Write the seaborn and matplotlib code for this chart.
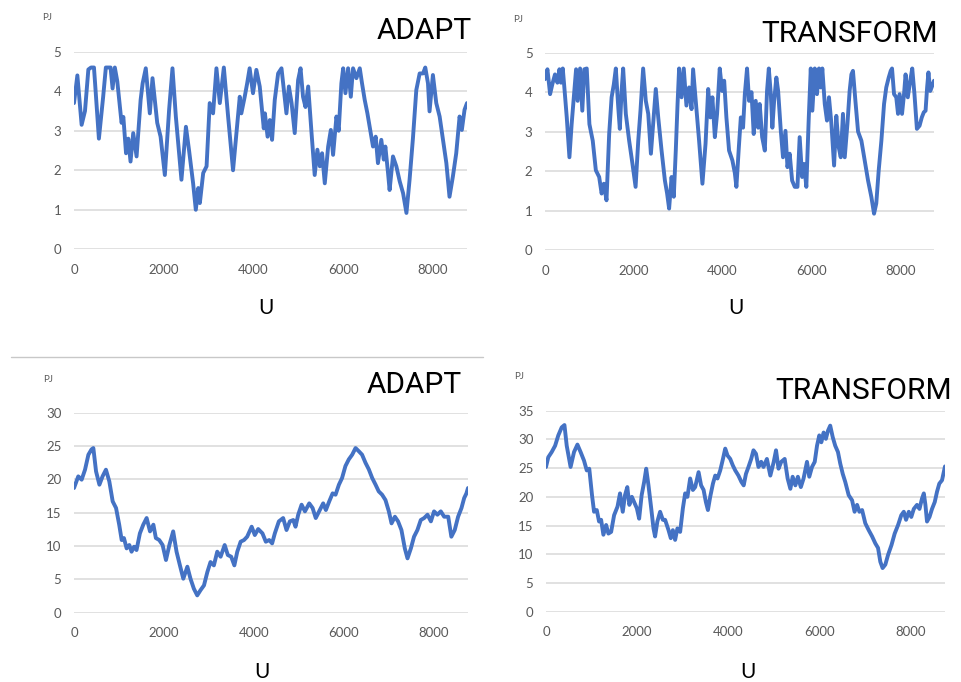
import matplotlib
matplotlib.use("Agg")
import matplotlib.pyplot as plt
from matplotlib.lines import Line2D
import seaborn as sns

# ---- data (hour of year -> PJ) ----
adapt_top_hours = [0, 75, 170, 245, 320, 380, 445, 470, 555, 650, 710, 815, 860, 910, 965,
                   1060, 1100, 1160, 1210, 1260, 1320, 1395, 1485, 1530, 1600, 1690, 1750,
                   1855, 1930, 2025, 2120, 2195, 2270, 2395, 2495, 2565, 2655, 2715, 2770,
                   2805, 2880, 2955, 3025, 3100, 3175, 3250, 3340, 3435, 3545, 3620, 3695,
                   3730, 3805, 3860, 3915, 3990, 4065, 4140, 4230, 4255, 4315, 4365, 4415,
                   4475, 4550, 4625, 4685, 4735, 4790, 4850, 4920, 4995, 5050, 5105, 5160,
                   5220, 5295, 5365, 5425, 5480, 5530, 5590, 5665, 5725, 5775, 5850, 5900,
                   5960, 6000, 6050, 6110, 6170, 6220, 6295, 6370, 6420, 6480, 6540, 6590,
                   6665, 6725, 6775, 6850, 6905, 6940, 7000, 7035, 7110, 7185, 7260, 7335,
                   7410, 7480, 7555, 7630, 7705, 7780, 7830, 7890, 7925, 8000, 8075, 8150,
                   8225, 8300, 8370, 8445, 8520, 8595, 8645, 8705, 8760]
adapt_top_pj = [3.7, 4.4, 3.15, 3.5, 4.55, 4.6, 4.6, 4.2, 2.8, 3.86, 4.6, 4.6, 4.07, 4.6, 4.25,
                3.2, 3.35, 2.43, 2.8, 2.22, 2.94, 2.35, 3.78, 4.2, 4.58, 3.44, 4.33,
                3.2, 2.85, 1.88, 3.53, 4.58, 3.36, 1.76, 3.1, 2.5, 1.67, 1.0, 1.55,
                1.17, 1.93, 2.1, 3.7, 3.44, 4.58, 3.7, 4.6, 3.36, 2.0, 2.94, 3.86,
                3.44, 3.86, 4.2, 4.58, 3.95, 4.54, 4.12, 3.06, 3.44, 2.85, 3.27, 2.77,
                3.78, 4.45, 4.58, 3.95, 3.44, 4.12, 3.7, 2.94, 4.28, 4.58, 3.86, 3.6,
                4.12, 2.94, 1.88, 2.52, 2.1, 2.43, 1.67, 2.6, 3.02, 2.39, 3.36, 3.0,
                4.2, 4.58, 3.95, 4.58, 3.86, 4.58, 4.33, 4.58, 4.2, 3.78, 3.44, 3.1,
                2.6, 2.85, 2.18, 2.77, 2.27, 2.6, 1.93, 1.5, 2.35, 2.1, 1.72, 1.42,
                0.92, 1.76, 2.81, 4.03, 4.45, 4.45, 4.6, 4.2, 3.49, 4.41, 3.7, 3.36,
                2.77, 2.18, 1.33, 1.84, 2.43, 3.36, 3.02, 3.53, 3.7]

transform_top_hours = [0, 55, 115, 165, 225, 280, 325, 360, 400, 430, 490, 550, 600, 655, 700,
                       735, 790, 840, 885, 940, 1000, 1075, 1145, 1220, 1275, 1325, 1385,
                       1445, 1500, 1550, 1595, 1650, 1685, 1725, 1760, 1820, 1895, 1970, 2040,
                       2100, 2150, 2210, 2270, 2325, 2385, 2435, 2495, 2550, 2625, 2700, 2750,
                       2795, 2850, 2900, 2945, 2985, 3020, 3075, 3125, 3185, 3245, 3300, 3335,
                       3395, 3470, 3545, 3615, 3675, 3725, 3770, 3825, 3875, 3935, 3990, 4035,
                       4085, 4145, 4220, 4275, 4310, 4365, 4410, 4460, 4500, 4550, 4595, 4650,
                       4700, 4745, 4800, 4835, 4890, 4950, 5000, 5040, 5085, 5120, 5160, 5210,
                       5250, 5310, 5360, 5415, 5460, 5510, 5565, 5625, 5685, 5735, 5790, 5835,
                       5885, 5940, 5985, 6020, 6075, 6125, 6170, 6210, 6245, 6300, 6350, 6395,
                       6450, 6510, 6560, 6615, 6660, 6710, 6750, 6810, 6860, 6900, 6935, 6990,
                       7050, 7125, 7200, 7275, 7350, 7410, 7460, 7515, 7575, 7635, 7685, 7740,
                       7785, 7815, 7860, 7910, 7950, 7985, 8040, 8085, 8120, 8170, 8225, 8270,
                       8320, 8375, 8435, 8485, 8530, 8570, 8605, 8635, 8675, 8720, 8760]
transform_top_pj = [4.33, 4.58, 3.95, 4.2, 4.45, 4.24, 4.58, 4.24, 4.6, 4.2, 3.36, 2.35, 3.19, 3.95, 4.58,
                    3.78, 4.6, 3.53, 4.58, 4.6, 3.19, 2.77, 2.02, 1.85, 1.43, 1.68, 1.26,
                    2.94, 3.87, 4.2, 4.6, 3.61, 3.07, 4.03, 4.6, 3.45, 2.77, 2.18, 1.6,
                    2.77, 3.53, 4.6, 3.78, 3.45, 2.44, 3.19, 4.08, 3.36, 2.52, 1.76, 1.43,
                    1.05, 1.85, 1.35, 2.52, 3.7, 4.6, 3.87, 4.6, 3.66, 4.12, 3.57, 4.58,
                    3.78, 2.77, 1.68, 2.69, 4.08, 3.36, 3.87, 2.86, 3.45, 4.6, 4.03, 4.29,
                    3.36, 2.52, 2.27, 1.95, 1.6, 2.6, 3.36, 3.1, 3.95, 4.6, 3.78, 4.0,
                    2.94, 3.78, 3.1, 3.7, 2.86, 2.52, 4.03, 4.6, 3.95, 3.1, 3.78, 4.37,
                    4.03, 3.02, 2.35, 3.02, 2.1, 2.44, 1.76, 1.6, 1.6, 2.86, 1.85, 2.18,
                    1.6, 3.36, 4.6, 3.53, 4.6, 3.95, 4.6, 4.12, 4.6, 3.7, 3.28, 3.87,
                    3.19, 2.14, 3.4, 2.6, 2.35, 3.45, 2.35, 3.19, 4.03, 4.45, 4.54, 3.78,
                    3.0, 2.77, 2.27, 1.76, 1.34, 0.92, 1.18, 2.02, 2.77, 3.7, 4.12, 4.37,
                    4.54, 4.6, 3.95, 3.87, 3.45, 3.95, 3.45, 3.95, 4.45, 3.87, 4.29, 4.6,
                    3.95, 3.07, 3.15, 3.36, 3.49, 3.53, 4.12, 4.5, 4.03, 4.16, 4.29]

adapt_bottom_hours = [0, 95, 170, 245, 320, 390, 430, 490, 565, 635, 710, 785, 860, 935, 1005,
                      1060, 1110, 1170, 1230, 1280, 1335, 1390, 1465, 1540, 1615, 1690, 1765,
                      1820, 1895, 1970, 2045, 2120, 2205, 2280, 2355, 2430, 2520, 2590, 2665,
                      2740, 2815, 2890, 2965, 3035, 3110, 3185, 3260, 3350, 3420, 3495, 3565,
                      3630, 3705, 3780, 3850, 3950, 4020, 4095, 4190, 4265, 4340, 4405, 4465,
                      4555, 4650, 4725, 4800, 4875, 4925, 4985, 5060, 5135, 5230, 5305, 5375,
                      5450, 5540, 5600, 5675, 5750, 5815, 5890, 5960, 6035, 6110, 6185, 6260,
                      6335, 6405, 6480, 6555, 6630, 6705, 6775, 6850, 6925, 7000, 7060, 7135,
                      7205, 7280, 7355, 7415, 7490, 7560, 7635, 7710, 7785, 7860, 7935, 8005,
                      8080, 8155, 8230, 8320, 8390, 8465, 8540, 8615, 8675, 8725, 8760]
adapt_bottom_pj = [18.7, 20.45, 19.95, 21.45, 23.7, 24.5, 24.7, 21.2, 19.2, 20.45, 21.45, 19.7, 16.7, 15.7, 13.2,
                   10.9, 11.2, 9.65, 10.15, 9.15, 9.9, 9.4, 11.9, 13.2, 14.2, 12.2, 13.2,
                   11.2, 10.9, 10.15, 7.9, 10.15, 12.2, 9.15, 7.1, 5.1, 6.9, 5.1, 3.6,
                   2.6, 3.4, 4.1, 6.1, 7.6, 7.1, 9.15, 8.4, 10.15, 8.65, 8.4, 7.1,
                   9.15, 10.65, 10.9, 11.4, 12.9, 11.65, 12.55, 11.9, 10.65, 10.9, 10.4, 11.9,
                   13.7, 14.2, 12.4, 13.7, 13.9, 12.9, 14.7, 16.2, 15.2, 16.4, 15.7, 14.2,
                   15.2, 16.4, 15.4, 16.7, 17.9, 17.7, 19.2, 20.2, 22.0, 23.0, 23.7, 24.7,
                   24.2, 23.7, 22.5, 21.5, 20.2, 19.2, 18.2, 17.7, 16.9, 15.2, 13.4, 14.4,
                   13.7, 12.4, 9.65, 8.15, 9.65, 11.4, 12.4, 13.9, 14.2, 14.7, 13.7, 15.2,
                   14.7, 15.2, 14.4, 14.4, 11.4, 12.4, 14.4, 15.7, 17.2, 17.9, 18.7]

transform_bottom_hours = [0, 50, 125, 200, 270, 345, 405, 455, 540, 615, 690, 760, 835, 895, 950,
                          1010, 1055, 1115, 1165, 1210, 1260, 1320, 1370, 1430, 1495, 1570, 1625,
                          1685, 1735, 1785, 1830, 1885, 1935, 1995, 2045, 2100, 2155, 2200, 2250,
                          2310, 2360, 2395, 2445, 2505, 2565, 2615, 2690, 2740, 2785, 2835, 2885,
                          2945, 3005, 3055, 3105, 3165, 3225, 3275, 3350, 3405, 3460, 3510, 3555,
                          3605, 3665, 3715, 3765, 3825, 3885, 3935, 3985, 4045, 4100, 4155, 4225,
                          4290, 4340, 4390, 4445, 4505, 4555, 4610, 4665, 4725, 4775, 4850, 4925,
                          5000, 5050, 5105, 5165, 5240, 5305, 5365, 5415, 5475, 5530, 5595, 5655,
                          5730, 5780, 5840, 5900, 5950, 6000, 6045, 6095, 6145, 6190, 6240, 6295,
                          6350, 6410, 6460, 6515, 6570, 6645, 6720, 6775, 6830, 6880, 6940, 7010,
                          7085, 7160, 7230, 7290, 7340, 7390, 7450, 7510, 7585, 7655, 7730, 7800,
                          7855, 7905, 7965, 8020, 8075, 8145, 8200, 8255, 8295, 8330, 8365, 8420,
                          8475, 8535, 8585, 8635, 8695, 8760]
transform_bottom_pj = [25.2, 26.9, 27.8, 28.9, 30.7, 32.1, 32.5, 28.9, 25.2, 27.8, 29.1, 27.8, 26.3, 24.6, 24.9,
                       20.3, 17.4, 17.7, 15.7, 16.0, 13.4, 15.1, 13.6, 13.9, 16.8, 18.3, 20.6,
                       17.4, 20.3, 21.7, 18.6, 20.0, 19.1, 18.0, 16.2, 20.3, 22.6, 24.9, 22.0,
                       18.0, 14.5, 13.1, 15.7, 17.4, 16.0, 16.0, 14.2, 12.8, 14.2, 12.5, 14.5,
                       13.9, 18.0, 20.6, 20.0, 23.2, 21.2, 21.7, 24.3, 22.0, 21.2, 19.1, 17.7,
                       20.0, 22.3, 23.7, 23.2, 24.6, 26.6, 28.4, 27.2, 26.6, 25.5, 24.6, 23.7,
                       22.6, 22.0, 24.0, 25.2, 26.6, 28.1, 27.5, 25.2, 26.1, 25.2, 26.6, 23.7,
                       26.1, 28.1, 24.9, 26.1, 26.6, 23.2, 21.4, 23.5, 22.0, 23.5, 21.7, 23.2,
                       26.1, 23.5, 25.2, 26.1, 28.9, 30.7, 29.5, 31.2, 30.1, 31.5, 32.4, 30.4,
                       28.9, 27.8, 25.8, 24.0, 22.6, 20.3, 19.4, 17.4, 18.6, 17.4, 17.7, 15.4,
                       14.2, 13.1, 11.9, 11.1, 8.7, 7.6, 8.2, 9.9, 11.6, 13.6, 15.1, 16.8,
                       17.4, 16.0, 17.4, 16.5, 17.9, 18.6, 17.9, 19.7, 20.6, 18.6, 15.7, 16.5,
                       17.9, 19.1, 20.9, 22.3, 22.9, 25.3]

panel_titles = ["ADAPT", "TRANSFORM", "ADAPT", "TRANSFORM"]
y_ticks = [[0, 1, 2, 3, 4, 5], [0, 1, 2, 3, 4, 5],
           [0, 5, 10, 15, 20, 25, 30], [0, 5, 10, 15, 20, 25, 30, 35]]
x_ticks = [0, 2000, 4000, 6000, 8000]

# ---- figure ----
W, H = 961, 682
sns.set_theme(style="white")
plt.rcParams['font.family'] = ['Lato', 'DejaVu Sans']

fig = plt.figure(figsize=(W / 100, H / 100), dpi=100)

def px_rect(x0, x1, ytop, ybot):
    return [x0 / W, 1 - ybot / H, (x1 - x0) / W, (ybot - ytop) / H]

axes_px = [(74, 467, 51.7, 249.3), (545, 934, 52.7, 250),
           (74, 468, 412.7, 612.7), (546, 945, 410.7, 611.7)]
series = [(adapt_top_hours, adapt_top_pj), (transform_top_hours, transform_top_pj),
          (adapt_bottom_hours, adapt_bottom_pj), (transform_bottom_hours, transform_bottom_pj)]
title_pos = [(472, 39), (938, 42), (462, 393), (952, 399)]
pj_pos = [(47, 18), (518, 20), (48, 380), (519, 377)]
u_pos = [(266, 308), (736, 308), (262, 672), (748, 672)]

line_col = '#4472C4'
tick_col = '#595959'
grid_col = '#d9d9d9'

for i in range(4):
    ax = fig.add_axes(px_rect(*axes_px[i]))
    hours, pj = series[i]
    sns.lineplot(x=hours, y=pj, ax=ax, color=line_col, linewidth=2.8)
    ax.set_xlim(0, 8760)
    ax.set_ylim(0, y_ticks[i][-1])
    ax.set_yticks(y_ticks[i])
    ax.set_xticks(x_ticks)
    ax.grid(axis='y', color=grid_col, linewidth=1.1)
    ax.grid(axis='x', visible=False)
    ax.set_axisbelow(True)
    for s in ax.spines.values():
        s.set_visible(False)
    ax.tick_params(axis='both', length=0, labelsize=9.5, labelcolor=tick_col)
    ax.tick_params(axis='x', pad=10.5)
    ax.tick_params(axis='y', pad=9)
    ax.set_xlabel('')
    ax.set_ylabel('')

    # panel name, unit and axis letter
    tx, ty = title_pos[i]
    fig.text(tx / W, 1 - ty / H, panel_titles[i], ha='right', va='baseline',
             fontsize=21.5, color='black',
             family=['Liberation Sans Narrow', 'Roboto', 'DejaVu Sans'])
    px_, py_ = pj_pos[i]
    fig.text(px_ / W, 1 - py_ / H, 'PJ', ha='center', va='center', fontsize=7, color=tick_col)
    ux, uy = u_pos[i]
    fig.text(ux / W, 1 - uy / H, 'U', ha='center', va='center', fontsize=15, color='black')

# thin separator line above the lower-left panel
fig.add_artist(Line2D([11 / W, 483 / W], [1 - 357 / H, 1 - 357 / H],
                      color='#c8c8c8', linewidth=1))

fig.savefig('out.png', dpi=100)
